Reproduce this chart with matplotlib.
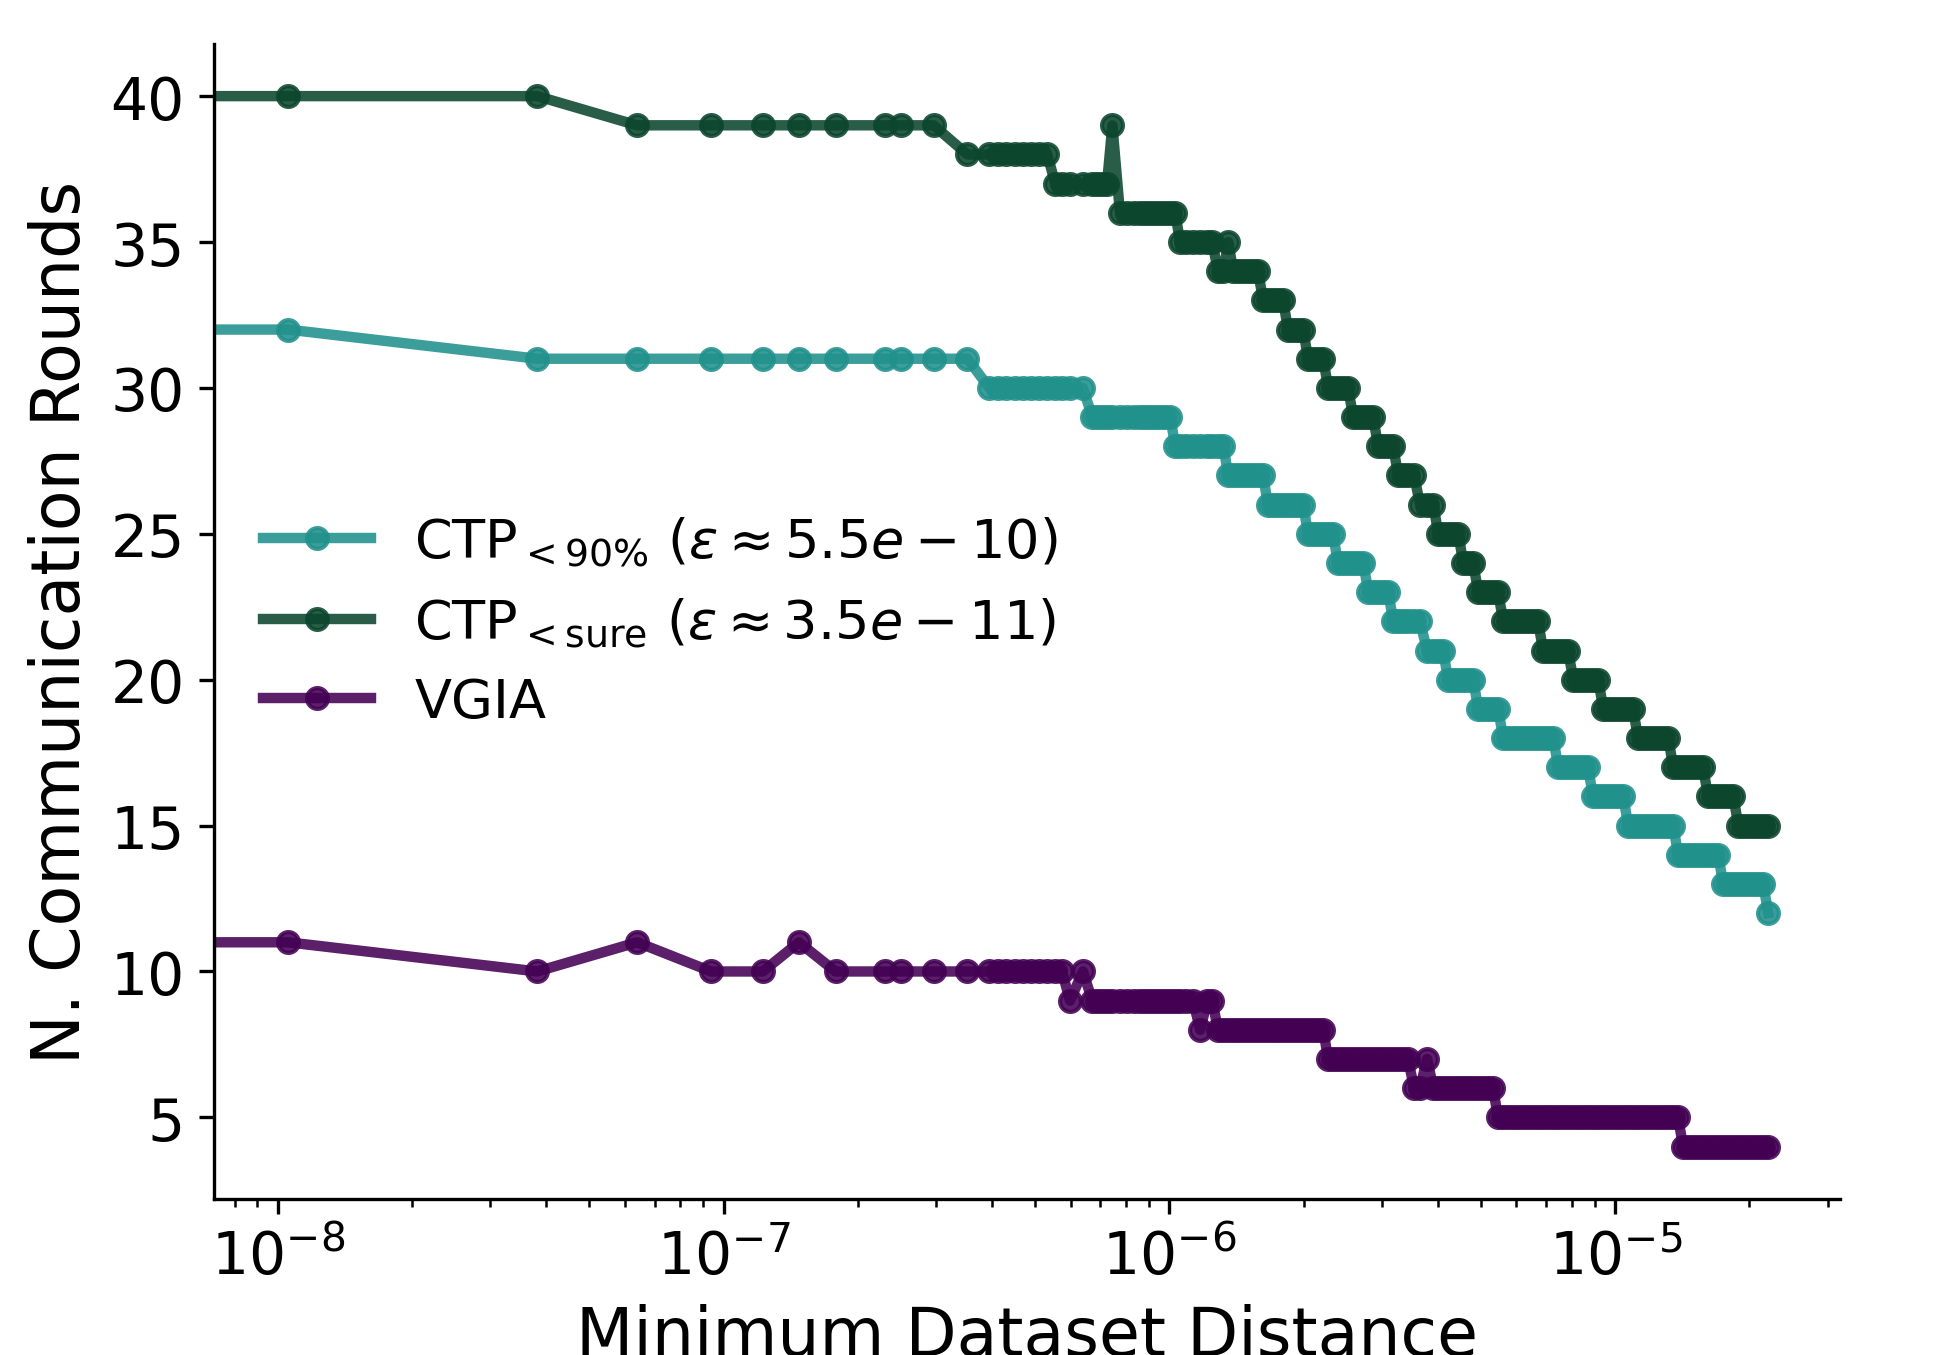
import numpy as np
import matplotlib
matplotlib.use("Agg")
import matplotlib.pyplot as plt

# x values: log10 of the minimum dataset distance (first point lies left of the view)
log_distance = [
    -8.700, -7.977, -7.418, -7.194, -7.028, -6.912, -6.831, -6.749, -6.638, -6.603, -6.529, -6.453,
    -6.404, -6.384, -6.366, -6.346, -6.328, -6.310, -6.292, -6.274, -6.256, -6.241,
    -6.223, -6.194, -6.173, -6.162, -6.151, -6.140, -6.128, -6.111, -6.095, -6.079,
    -6.066, -6.054, -6.043, -6.032, -6.021, -6.010, -5.998, -5.987, -5.976, -5.962,
    -5.947, -5.931, -5.915, -5.904, -5.891, -5.879, -5.868, -5.857, -5.846, -5.835,
    -5.823, -5.812, -5.801, -5.790, -5.779, -5.767, -5.756, -5.745, -5.734, -5.722,
    -5.711, -5.700, -5.689, -5.678, -5.666, -5.655, -5.644, -5.633, -5.622, -5.610,
    -5.599, -5.588, -5.577, -5.565, -5.554, -5.543, -5.532, -5.521, -5.509, -5.498,
    -5.487, -5.476, -5.465, -5.451, -5.438, -5.422, -5.408, -5.397, -5.386, -5.375,
    -5.364, -5.352, -5.341, -5.330, -5.319, -5.307, -5.296, -5.285, -5.274, -5.263,
    -5.251, -5.240, -5.229, -5.218, -5.207, -5.195, -5.184, -5.173, -5.162, -5.150,
    -5.139, -5.128, -5.117, -5.106, -5.094, -5.083, -5.072, -5.061, -5.050, -5.038,
    -5.027, -5.016, -5.005, -4.993, -4.982, -4.971, -4.960, -4.949, -4.937, -4.926,
    -4.915, -4.904, -4.893, -4.881, -4.870, -4.859, -4.848, -4.836, -4.825, -4.814,
    -4.803, -4.792, -4.780, -4.769, -4.758, -4.747, -4.735, -4.724, -4.713, -4.702,
    -4.691, -4.679, -4.668, -4.657,
]

ctp_90 = [
    32, 32, 31, 31, 31, 31, 31, 31, 31, 31, 31, 31,
    30, 30, 30, 30, 30, 30, 30, 30, 30, 30,
    30, 30, 29, 29, 29, 29, 29, 29, 29, 29,
    29, 29, 29, 29, 29, 29, 29, 28, 28, 28,
    28, 28, 28, 28, 28, 28, 27, 27, 27, 27,
    27, 27, 27, 27, 26, 26, 26, 26, 26, 26,
    26, 26, 25, 25, 25, 25, 25, 25, 24, 24,
    24, 24, 24, 24, 23, 23, 23, 23, 23, 22,
    22, 22, 22, 22, 22, 21, 21, 21, 21, 20,
    20, 20, 20, 20, 20, 19, 19, 19, 19, 19,
    18, 18, 18, 18, 18, 18, 18, 18, 18, 18,
    18, 17, 17, 17, 17, 17, 17, 17, 16, 16,
    16, 16, 16, 16, 16, 15, 15, 15, 15, 15,
    15, 15, 15, 15, 15, 14, 14, 14, 14, 14,
    14, 14, 14, 14, 13, 13, 13, 13, 13, 13,
    13, 13, 13, 12,
]

ctp_sure = [
    40, 40, 40, 39, 39, 39, 39, 39, 39, 39, 39, 38,
    38, 38, 38, 38, 38, 38, 38, 38, 37, 37,
    37, 37, 37, 37, 37, 37, 39, 36, 36, 36,
    36, 36, 36, 36, 36, 36, 36, 36, 35, 35,
    35, 35, 35, 35, 34, 34, 35, 34, 34, 34,
    34, 34, 34, 33, 33, 33, 33, 33, 32, 32,
    32, 32, 31, 31, 31, 31, 30, 30, 30, 30,
    30, 29, 29, 29, 29, 29, 28, 28, 28, 28,
    27, 27, 27, 27, 26, 26, 26, 25, 25, 25,
    25, 25, 24, 24, 24, 23, 23, 23, 23, 23,
    22, 22, 22, 22, 22, 22, 22, 22, 21, 21,
    21, 21, 21, 21, 20, 20, 20, 20, 20, 20,
    19, 19, 19, 19, 19, 19, 19, 18, 18, 18,
    18, 18, 18, 18, 17, 17, 17, 17, 17, 17,
    17, 16, 16, 16, 16, 16, 16, 15, 15, 15,
    15, 15, 15, 15,
]

vgia = [
    11, 11, 10, 11, 10, 10, 11, 10, 10, 10, 10, 10,
    10, 10, 10, 10, 10, 10, 10, 10, 10, 10,
    9, 10, 9, 9, 9, 9, 9, 9, 9, 9,
    9, 9, 9, 9, 9, 9, 9, 9, 9, 9,
    9, 8, 9, 9, 8, 8, 8, 8, 8, 8,
    8, 8, 8, 8, 8, 8, 8, 8, 8, 8,
    8, 8, 8, 8, 8, 8, 7, 7, 7, 7,
    7, 7, 7, 7, 7, 7, 7, 7, 7, 7,
    7, 7, 7, 6, 6, 7, 6, 6, 6, 6,
    6, 6, 6, 6, 6, 6, 6, 6, 6, 5,
    5, 5, 5, 5, 5, 5, 5, 5, 5, 5,
    5, 5, 5, 5, 5, 5, 5, 5, 5, 5,
    5, 5, 5, 5, 5, 5, 5, 5, 5, 5,
    5, 5, 5, 5, 5, 5, 4, 4, 4, 4,
    4, 4, 4, 4, 4, 4, 4, 4, 4, 4,
    4, 4, 4, 4,
]

labels = [
    r'$\mathrm{CTP}_{<\mathrm{90\%}}\ (\varepsilon \approx 5.5e-10)$',
    r'$\mathrm{CTP}_{<\mathrm{sure}}\ (\varepsilon \approx 3.5e-11)$',
    'VGIA',
]
colors = ['#21918c', '#0c462d', '#440154']

distance = 10.0 ** np.array(log_distance)

fig = plt.figure(figsize=(6.51, 4.52), dpi=300)
ax = fig.add_axes([0.1096, 0.1150, 0.8326, 0.8521])
for ys, lab, col in zip([ctp_90, ctp_sure, vgia], labels, colors):
    ax.plot(distance, ys, '-o', color=col, lw=2.5, ms=5, alpha=0.88, label=lab)

ax.set_xscale('log')
ax.set_xlim(7.196e-9, 3.194e-5)
ax.set_ylim(2.2, 41.8)
ax.spines['top'].set_visible(False)
ax.spines['right'].set_visible(False)
ax.tick_params(labelsize=14)
ax.set_xlabel('Minimum Dataset Distance', fontsize=16)
ax.set_ylabel('N. Communication Rounds', fontsize=16)
ax.legend(loc='center left', bbox_to_anchor=(0, 0.50), frameon=False, fontsize=13)
fig.savefig('out.png', dpi=300)
